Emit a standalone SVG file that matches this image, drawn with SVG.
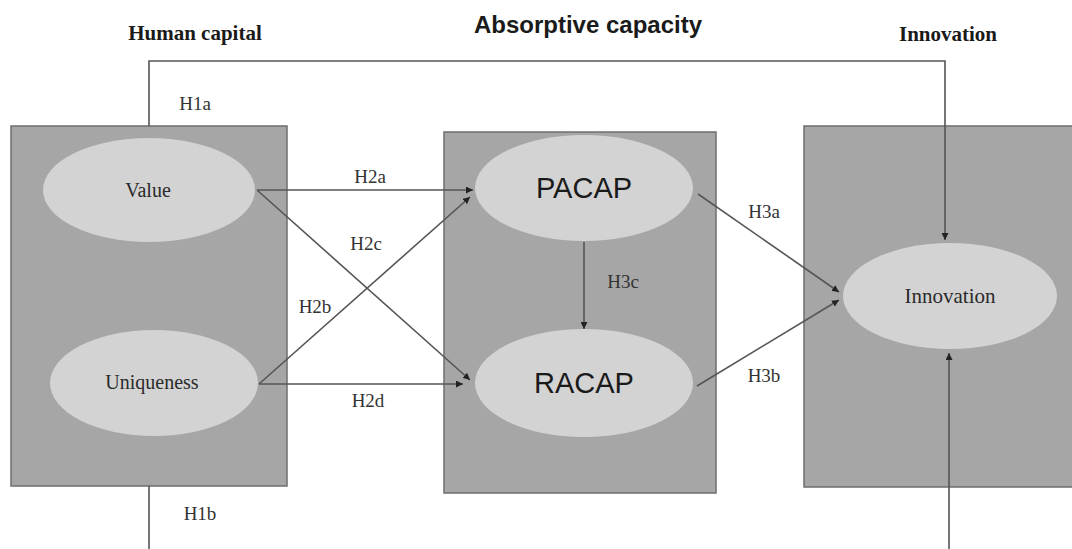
<svg xmlns="http://www.w3.org/2000/svg" width="1072" height="549" viewBox="0 0 1072 549">
<style>
.box{fill:#a6a6a6;stroke:#6e6e6e;stroke-width:1.5}
.ell{fill:#d3d3d3;stroke:none}
.hdr{font-family:"Liberation Serif",serif;font-weight:bold;font-size:21px;fill:#1a1a1a;text-anchor:middle}
.hdr2{font-family:"Liberation Sans",Arial,sans-serif;font-weight:bold;font-size:24px;fill:#1a1a1a;text-anchor:middle}
.lbl{font-family:"Liberation Serif",serif;font-size:19px;fill:#333;text-anchor:middle}
.ntx{font-family:"Liberation Serif",serif;font-size:20px;fill:#2a2a2a;text-anchor:middle}
.big{font-family:"Liberation Sans",Arial,sans-serif;font-size:29px;fill:#1a1a1a;text-anchor:middle}
.ln{fill:none;stroke:#555;stroke-width:1.6}
.arr{fill:none;stroke:#555;stroke-width:1.6;marker-end:url(#ah)}
</style>
<defs>
<marker id="ah" viewBox="0 0 10 10" refX="10" refY="5" markerWidth="7" markerHeight="7" markerUnits="userSpaceOnUse" orient="auto">
<path d="M0,0 L10,5 L0,10 z" fill="#222"/>
</marker>
</defs>
<rect width="1072" height="549" fill="#fff"/>
<text class="hdr" x="195" y="40">Human capital</text>
<text class="hdr2" x="588" y="33">Absorptive capacity</text>
<text class="hdr" x="948" y="41">Innovation</text>

<g id="human-capital">
<rect class="box" x="11" y="126" width="276" height="360"/>
</g>
<g id="absorptive-capacity">
<rect class="box" x="444" y="132" width="272" height="361"/>
</g>
<g id="innovation-box">
<rect class="box" x="804" y="126" width="280" height="361"/>
</g>
<g id="value">
<ellipse class="ell" cx="149" cy="190" rx="106" ry="52"/>
<text class="ntx" x="148" y="197">Value</text>
</g>
<g id="uniqueness">
<ellipse class="ell" cx="154" cy="383" rx="104" ry="53"/>
<text class="ntx" x="152" y="389">Uniqueness</text>
</g>
<g id="pacap">
<ellipse class="ell" cx="584" cy="188" rx="109" ry="53"/>
<text class="big" x="584" y="198">PACAP</text>
</g>
<g id="racap">
<ellipse class="ell" cx="584" cy="383" rx="109" ry="54"/>
<text class="big" x="584" y="393">RACAP</text>
</g>
<g id="innovation">
<ellipse class="ell" cx="950" cy="296" rx="107" ry="53"/>
<text class="ntx" x="950" y="303" style="font-size:21px">Innovation</text>
</g>

<g id="connectors">
<path class="arr" d="M149,126 V61 H945 V240"/>
<path class="arr" d="M149,486 V556 H949 V353"/>
<path class="arr" d="M257,190 H473"/>
<path class="arr" d="M257,190 L470,380"/>
<path class="arr" d="M259,384 L470,197"/>
<path class="arr" d="M259,384 H463"/>
<path class="arr" d="M584,242 V329"/>
<path class="arr" d="M698,194 L839,292"/>
<path class="arr" d="M697,386 L839,300"/>
</g>

<g id="labels">
<text class="lbl" x="195" y="110">H1a</text>
<text class="lbl" x="200" y="520">H1b</text>
<text class="lbl" x="370" y="183">H2a</text>
<text class="lbl" x="366" y="250">H2c</text>
<text class="lbl" x="315" y="313">H2b</text>
<text class="lbl" x="368" y="407">H2d</text>
<text class="lbl" x="764" y="218">H3a</text>
<text class="lbl" x="623" y="288">H3c</text>
<text class="lbl" x="764" y="382">H3b</text>
</g>
</svg>
